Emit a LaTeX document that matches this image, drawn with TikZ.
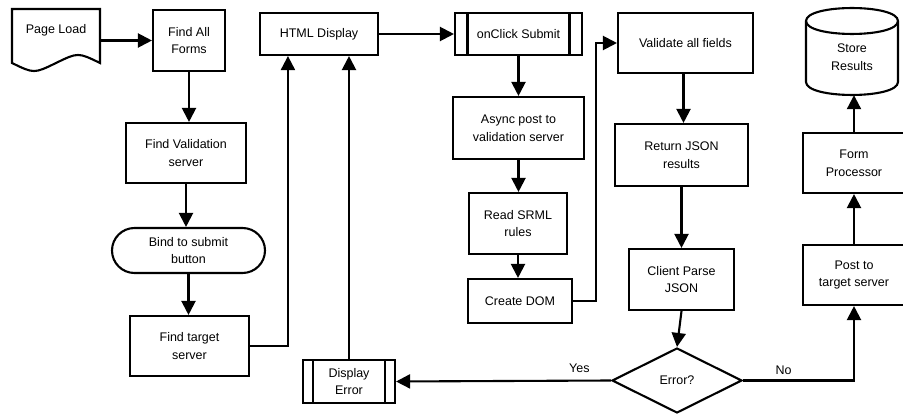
\documentclass[tikz,border=0pt]{standalone}
\usepackage{fontspec}
\setmainfont{Liberation Sans}
\usetikzlibrary{arrows.meta,shapes.geometric,shapes.misc}

\tikzset{
  lw/.style={line width=2.1pt},
  flowbox/.style={lw, draw, rectangle, align=center, inner sep=0pt},
  subproc/.style={flowbox, path picture={
      \draw[lw] ([xshift=#1]path picture bounding box.north west) -- ([xshift=#1]path picture bounding box.south west)
                ([xshift=-#1]path picture bounding box.north east) -- ([xshift=-#1]path picture bounding box.south east);}},
  term/.style={lw, draw, rounded rectangle, align=center, inner sep=0pt},
  decision/.style={lw, draw, diamond, aspect=2, align=center, inner sep=0pt},
  plain/.style={align=center, inner sep=0pt},
  arr/.style={lw, -{Triangle[length=14pt,width=14pt]}},
  lbl/.style={inner sep=0pt}
}

\begin{document}
\begin{tikzpicture}[x=1pt, y=-1pt, font=\fontsize{12.5}{17.7}\selectfont, line join=miter]
  \useasboundingbox (0,0) rectangle (903,414);

  % ---- left column ----
  \node[plain, minimum width=88pt, minimum height=54pt] (load) at (56,36)
       {\raisebox{6pt}[\height][\depth]{Page Load}};
  \draw[lw] (12,9) -- (100,9) -- (100,63)
        .. controls (78,52.3) and (78,52.3) .. (56,63)
        .. controls (34,73.7) and (34,73.7) .. (12,63) -- cycle;

  \node[flowbox, minimum width=72pt,  minimum height=61pt] (forms)  at (189,40.5)  {Find All\\Forms};
  \node[flowbox, minimum width=120pt, minimum height=60pt] (valid)  at (186,153)   {Find Validation\\server};
  \node[term,    minimum width=153pt, minimum height=45pt] (bind)   at (188.5,250.5) {Bind to submit\\button};
  \node[flowbox, minimum width=119pt, minimum height=60pt] (target) at (189.5,346) {Find target\\server};

  % ---- display column ----
  \node[flowbox, minimum width=118pt, minimum height=42pt] (html)   at (319,34)    {HTML Display};
  \node[subproc=10pt, minimum width=92pt, minimum height=43pt] (errbox) at (349,381.5) {Display\\Error};

  % ---- submit column ----
  \node[subproc=12.5pt, minimum width=127pt, minimum height=42pt] (onclick) at (518.5,34) {onClick Submit};
  \node[flowbox, minimum width=131pt, minimum height=62pt] (async) at (518.5,128) {Async post to\\validation server};
  \node[flowbox, minimum width=98pt,  minimum height=61pt] (srml)  at (518,223.5) {Read SRML\\rules};
  \node[flowbox, minimum width=104pt, minimum height=44pt] (dom)   at (520,301)   {Create DOM};

  % ---- validation column ----
  \node[flowbox, minimum width=135pt, minimum height=60pt] (validate) at (685.5,43)  {Validate all fields};
  \node[flowbox, minimum width=133pt, minimum height=62pt] (ret)      at (681.5,155) {Return JSON\\results};
  \node[flowbox, minimum width=105pt, minimum height=61pt] (parse)    at (681.5,279.5) {Client Parse\\JSON};
  \node[decision, minimum width=130pt, minimum height=65pt] (err)     at (677,380.5) {Error?};

  % ---- right column ----
  \node[flowbox, minimum width=102pt, minimum height=60pt] (post) at (854,275) {Post to\\target server};
  \node[flowbox, minimum width=102pt, minimum height=60pt] (proc) at (854,163) {Form\\Processor};
  \node[plain, minimum width=92pt, minimum height=76pt] (store) at (852,57) {Store\\Results};
  \draw[lw] (806,21) .. controls (806,3.7) and (898,3.7) .. (898,21)
        -- (898,82) .. controls (898,99.3) and (806,99.3) .. (806,82) -- cycle;
  \draw[lw] (806,21) .. controls (806,38.3) and (898,38.3) .. (898,21);

  % ---- connectors ----
  \draw[arr] (load.east |- forms.west) -- (forms.west);
  \draw[arr] (forms.south) -- (forms.south |- valid.north);
  \draw[arr] (valid.south) -- (valid.south |- bind.north);
  \draw[arr] (bind.south) -- (bind.south |- target.north);
  \draw[arr] (target.east) -| ([xshift=29pt]html.south west);
  \draw[arr] (errbox.north) -- (errbox.north |- html.south);
  \draw[arr] (html.east) -- (onclick.west);
  \draw[arr] (onclick.south) -- (onclick.south |- async.north);
  \draw[arr] (async.south) -- (async.south |- srml.north);
  \draw[arr] (srml.south) -- (srml.south |- dom.north);
  \draw[arr] (dom.east) -- ++(23,0) |- (validate.west);
  \draw[arr] ([xshift=-2pt]validate.south) -- ([xshift=-2pt]validate.south |- ret.north);
  \draw[arr] (ret.south) -- (ret.south |- parse.north);
  \draw[arr] (parse.south) -- (err.north);
  \draw[arr] (err.west) -- node[lbl, pos=0.147, yshift=12pt] (yes) {Yes} (errbox.east);
  \draw[arr] (err.east) -| node[lbl, pos=0.183, yshift=10pt] (no) {No} (post.south);
  \draw[arr] (post.north) -- (post.north |- proc.south);
  \draw[arr] (proc.north) -- (proc.north |- store.south);
\end{tikzpicture}
\end{document}
